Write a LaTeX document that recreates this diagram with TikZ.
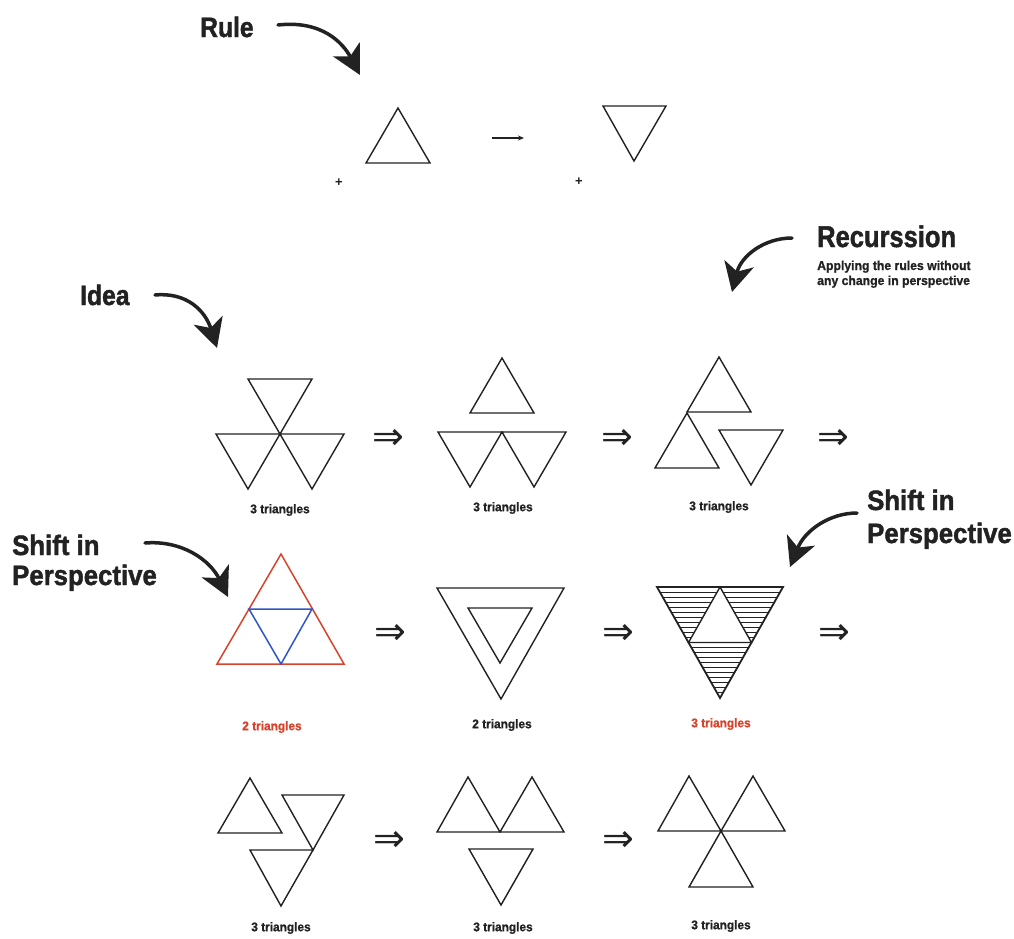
\documentclass[tikz,border=0pt]{standalone}
\usepackage{fontspec}
\usepackage{graphicx}
\setmainfont{Liberation Sans}
\newfontfamily\heavy{Liberation Sans}[BoldFeatures={FakeBold=1.6}]
\newfontfamily\heavylab{Liberation Sans}[BoldFeatures={FakeBold=1.0}]
\newfontfamily\symf{DejaVu Sans}
\usetikzlibrary{arrows.meta}
\definecolor{ink}{HTML}{222222}
\definecolor{redc}{HTML}{D9432B}
\definecolor{bluec}{HTML}{2F55C8}
\newcommand{\hsq}[2]{\scalebox{#1}[1]{#2}}
\begin{document}
\begin{tikzpicture}[x=1pt,y=-1pt,
  tri/.style={draw=ink, line width=1.4pt, line join=miter},
  title/.style={font=\heavy\bfseries\fontsize{28}{30}\selectfont, text=ink, inner sep=0pt, anchor=base west},
  sub/.style={font=\heavylab\bfseries\fontsize{13}{14}\selectfont, text=ink, inner sep=0pt, anchor=base west},
  lab/.style={font=\heavylab\bfseries\fontsize{12.5}{14}\selectfont, text=ink, inner sep=0pt},
  impl/.style={font=\symf\fontsize{38}{38}\selectfont, text=ink, inner sep=0pt},
  bigarrow/.style={draw=ink, line width=3.5pt, line cap=round, -{Stealth[length=29pt,width=30pt,inset=8pt]}},
  hatch/.style={draw=ink, line width=0.8pt}]
\useasboundingbox (0,0) rectangle (1014,938);
\fill[white] (0,0) rectangle (1014,938);

% ---------- Rule ----------
\node[title] (rule) at (200,37) {\hsq{0.88}{Rule}};
\coordinate (ruleA) at (278,25);
\coordinate (ruleB) at (360,75);
\draw[bigarrow] (ruleA) .. controls (322,20) and (343,43) .. (ruleB);

\draw[tri] (398,108) -- (430,163) -- (366,163) -- cycle;
\coordinate (smA) at (492,138);
\coordinate (smB) at (524,138);
\draw[draw=ink, line width=1.3pt, -{Stealth[length=6pt,width=5pt]}] (smA) -- (smB);
\draw[tri] (603,106) -- (666,106) -- (634,161) -- cycle;
\node[font=\bfseries\fontsize{13}{13}\selectfont, text=ink, inner sep=0pt] (plus1) at (339,183) {+};
\node[font=\bfseries\fontsize{13}{13}\selectfont, text=ink, inner sep=0pt] (plus2) at (579,182) {+};

% ---------- Recursion ----------
\node[title, font=\heavy\bfseries\fontsize{30}{32}\selectfont] (rec) at (817,247) {\hsq{0.85}{Recurssion}};
\node[sub] (rec1) at (817,270) {\hsq{0.94}{Applying the rules without}};
\node[sub] (rec2) at (817,285) {\hsq{0.94}{any change in perspective}};
\coordinate (recA) at (792,238);
\coordinate (recB) at (732,292);
\draw[bigarrow] (recA) .. controls (764,238) and (741,256) .. (recB);

% ---------- Idea ----------
\node[title] (idea) at (80,305) {\hsq{0.88}{Idea}};
\coordinate (ideaA) at (155,295);
\coordinate (ideaB) at (217,348);
\draw[bigarrow] (ideaA) .. controls (186,292) and (205,310) .. (ideaB);

% ---------- Row 1 ----------
\draw[tri] (248,379) -- (312,379) -- (280,434) -- cycle;
\draw[tri] (216,434) -- (280,434) -- (248,489) -- cycle;
\draw[tri] (280,434) -- (344,434) -- (312,489) -- cycle;
\node[lab] (l11) at (280,510) {\hsq{0.95}{3 triangles}};
\node[impl] (i11) at (388,439) {⇒};

\draw[tri] (502,358) -- (534,413) -- (470,413) -- cycle;
\draw[tri] (438,432) -- (502,432) -- (470,487) -- cycle;
\draw[tri] (502,432) -- (566,432) -- (534,487) -- cycle;
\node[lab] (l12) at (503,508) {\hsq{0.95}{3 triangles}};
\node[impl] (i12) at (617,439) {⇒};

\draw[tri] (719,357) -- (751,412) -- (687,412) -- cycle;
\draw[tri] (687,413) -- (719,468) -- (655,468) -- cycle;
\draw[tri] (719,430) -- (783,430) -- (751,485) -- cycle;
\node[lab] (l13) at (719,507) {\hsq{0.95}{3 triangles}};
\node[impl] (i13) at (833,439) {⇒};

% ---------- Shift in perspective (left) ----------
\node[title] (sl1) at (12,555) {\hsq{0.92}{Shift in}};
\node[title] (sl2) at (12,585) {\hsq{0.92}{Perspective}};
\coordinate (slA) at (145,543);
\coordinate (slB) at (228,597);
\draw[bigarrow] (slA) .. controls (182,540) and (210,560) .. (slB);

% ---------- Shift in perspective (right) ----------
\node[title] (sr1) at (867,510) {\hsq{0.92}{Shift in}};
\node[title] (sr2) at (867,543) {\hsq{0.92}{Perspective}};
\coordinate (srA) at (857,513);
\coordinate (srB) at (790,567);
\draw[bigarrow] (srA) .. controls (830,513) and (805,530) .. (srB);

% ---------- Row 2 ----------
\draw[draw=redc, line width=1.5pt] (281,554) -- (344,664) -- (217,664) -- cycle;
\draw[draw=bluec, line width=1.5pt] (249,609) -- (312,609) -- (281,664) -- cycle;
\node[lab, text=redc] (l21) at (272,727) {\hsq{0.95}{2 triangles}};
\node[impl] (i21) at (390,634) {⇒};

\draw[tri] (437,588) -- (564,588) -- (501,699) -- cycle;
\draw[tri] (468,608) -- (532,608) -- (500,663) -- cycle;
\node[lab] (l22) at (502,725) {\hsq{0.95}{2 triangles}};
\node[impl] (i22) at (618,634) {⇒};

\begin{scope}
  \clip (657,587) -- (720,587) -- (688.5,642.5) -- cycle
        (720,587) -- (783,587) -- (751.5,642.5) -- cycle
        (688.5,642.5) -- (751.5,642.5) -- (720,698) -- cycle;
  \foreach \yy in {592,597,...,697} {
    \draw[hatch] (650,\yy) -- (790,\yy);
  }
\end{scope}
\draw[tri, line width=1.8pt] (657,587) -- (783,587) -- (720,698) -- cycle;
\draw[tri] (720,587) -- (751.5,642.5) -- (688.5,642.5) -- cycle;
\draw[ink, line width=2.6pt] (657,587) -- (783,587);
\node[lab, text=redc] (l23) at (721,724) {\hsq{0.95}{3 triangles}};
\node[impl] (i23) at (834,634) {⇒};

% ---------- Row 3 ----------
\draw[tri] (250,778) -- (282,833) -- (218,833) -- cycle;
\draw[tri] (282,795) -- (344,795) -- (313,850) -- cycle;
\draw[tri] (250,850) -- (313,850) -- (281,906) -- cycle;
\node[lab] (l31) at (281,928) {\hsq{0.95}{3 triangles}};
\node[impl] (i31) at (389,841) {⇒};

\draw[tri] (468,777) -- (500,832) -- (437,832) -- cycle;
\draw[tri] (532,777) -- (564,832) -- (500,832) -- cycle;
\draw[tri] (469,849) -- (533,849) -- (501,905) -- cycle;
\node[lab] (l32) at (503,928) {\hsq{0.95}{3 triangles}};
\node[impl] (i32) at (618,841) {⇒};

\draw[tri] (689,776) -- (721,831) -- (658,831) -- cycle;
\draw[tri] (753,776) -- (785,831) -- (721,831) -- cycle;
\draw[tri] (721,831) -- (753,887) -- (689,887) -- cycle;
\node[lab] (l33) at (721,926) {\hsq{0.95}{3 triangles}};
\end{tikzpicture}
\end{document}
